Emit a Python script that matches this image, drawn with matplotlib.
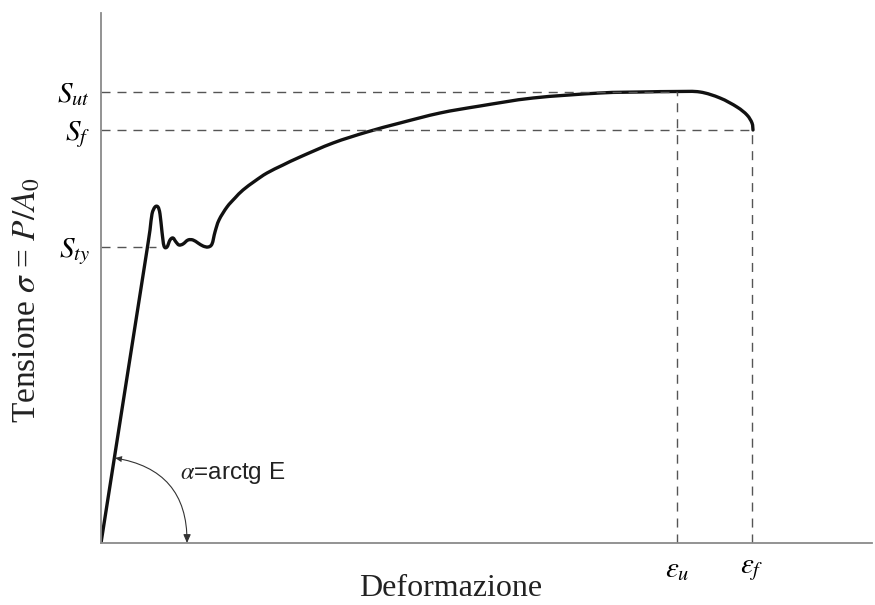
import numpy as np
import matplotlib
matplotlib.use("Agg")
import matplotlib.pyplot as plt
from matplotlib.path import Path
from matplotlib.patches import PathPatch

plt.rcParams['mathtext.fontset'] = 'stix'
plt.rcParams['font.family'] = ['Liberation Serif', 'DejaVu Serif']

# ---- data (arbitrary units) ----
strain = [0, 46, 49, 51, 54, 57, 59, 61, 63, 66, 69, 72, 75, 78, 82, 87, 92,
          97, 102, 107, 111, 114, 118, 126, 134, 142, 154, 166, 182, 199,
          232, 266, 299, 339, 379, 432, 499, 539, 576, 599, 619, 636, 646,
          651, 652]
stress = [0, 293, 313, 329, 336, 336, 329, 311, 297, 296, 303, 305, 301, 298,
          299, 303, 303, 300, 297, 296, 299, 311, 323, 336, 345, 353, 362,
          370, 378, 386, 400, 411, 420, 430, 437, 445, 450, 451, 451.5, 451,
          445, 436, 428, 420, 413]

yield_stress = 296      # S_ty
ultimate_stress = 451.5 # S_ut
fracture_stress = 413   # S_f
eps_u = 576
eps_f = 651
elastic_pt = (14, 85)   # point on elastic line where the angle arc starts
arc_end = (86, 0)

ytick_vals = [yield_stress, fracture_stress, ultimate_stress]
ytick_labels = [r'$S_{ty}$', r'$S_{f}$', r'$S_{ut}$']
xtick_vals = [eps_u, eps_f]
xtick_labels = [r'$\varepsilon_u$', r'$\varepsilon_f$']


def smooth_path(xs, ys, sharp=(0,)):
    """Catmull-Rom curve through the points, rendered as cubic Bezier."""
    P = np.column_stack([xs, ys]).astype(float)
    verts = [P[0]]
    codes = [Path.MOVETO]
    n = len(P)
    for i in range(n - 1):
        p0 = P[i - 1] if i > 0 else P[i]
        p1, p2 = P[i], P[i + 1]
        p3 = P[i + 2] if i + 2 < n else P[i + 1]
        if i in sharp:
            verts.append(p2)
            codes.append(Path.LINETO)
            continue
        if i - 1 in sharp:
            p0 = p1
        c1 = p1 + (p2 - p0) / 6.0
        c2 = p2 - (p3 - p1) / 6.0
        verts += [c1, c2, p2]
        codes += [Path.CURVE4] * 3
    return Path(np.array(verts), codes)


W, H = 875, 605
fig = plt.figure(figsize=(W / 100, H / 100), dpi=100)
x0, y0, x1, y1 = 101, 543, 872, 13
ax = fig.add_axes([x0 / W, (H - y0) / H, (x1 - x0) / W, (y0 - y1) / H])
ax.set_xlim(0, x1 - x0)
ax.set_ylim(0, y0 - y1)

for s in ['top', 'right']:
    ax.spines[s].set_visible(False)
for s in ['left', 'bottom']:
    ax.spines[s].set_color('#8a8a8a')
    ax.spines[s].set_linewidth(1.3)

dash = dict(color='#555555', lw=1.0, ls=(0, (6.5, 5)))
ax.plot([0, eps_u], [ultimate_stress] * 2, **dash)
ax.plot([0, eps_f], [fracture_stress] * 2, **dash)
ax.plot([0, 55], [yield_stress] * 2, **dash)
ax.plot([eps_u] * 2, [0, ultimate_stress], **dash)
ax.plot([eps_f] * 2, [0, fracture_stress], **dash)

ax.add_patch(PathPatch(smooth_path(strain, stress), fill=False,
                       edgecolor='#111111', lw=2.4, capstyle='round',
                       joinstyle='round'))

ax.set_yticks(ytick_vals)
ax.set_yticklabels(ytick_labels, fontsize=21)
ax.set_xticks(xtick_vals)
ax.set_xticklabels(xtick_labels, fontsize=21)
ax.tick_params(axis='y', length=0, pad=8)
ax.tick_params(axis='x', length=0, pad=10)

ax.annotate('', xy=arc_end, xytext=elastic_pt,
            arrowprops=dict(arrowstyle='-|>,head_length=0.5,head_width=0.22',
                            color='#333333', lw=0.8,
                            connectionstyle='arc3,rad=-0.43',
                            shrinkA=0, shrinkB=0))
ax.annotate('', xy=elastic_pt, xytext=arc_end,
            arrowprops=dict(arrowstyle='-|>,head_length=0.5,head_width=0.22',
                            color='#333333', lw=0.0,
                            connectionstyle='arc3,rad=0.43',
                            shrinkA=0, shrinkB=0))
ax.text(79, 70, r'$\alpha$=arctg E', fontsize=17.5,
        family=['Liberation Sans', 'DejaVu Sans'], va='center', ha='left',
        color='#222222')

fig.text(451 / W, 1 - 589 / H, 'Deformazione', fontsize=23,
         ha='center', va='center', color='#222222')
fig.text(27 / W, 1 - 300 / H, r'Tensione $\sigma$ = $P/A_0$', fontsize=24,
         ha='center', va='center', rotation=90, color='#222222')

fig.savefig('out.png', dpi=100)
